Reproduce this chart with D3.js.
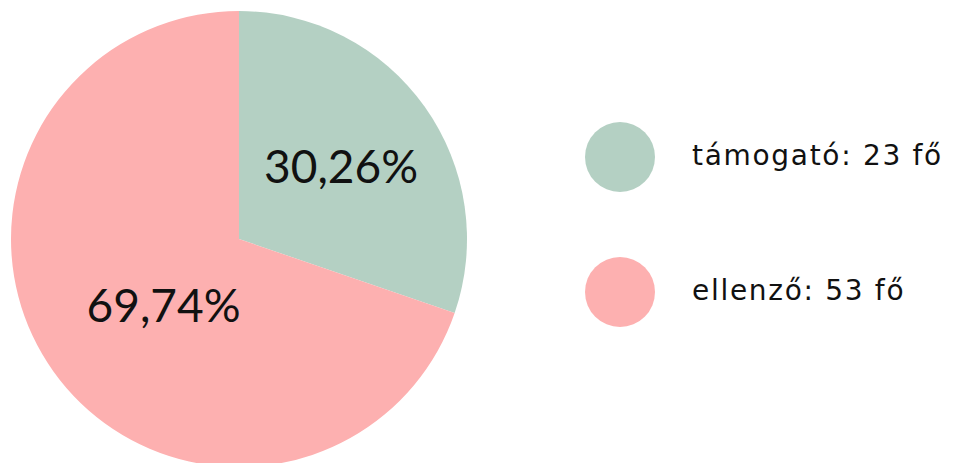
<!DOCTYPE html>
<html>
<head>
<meta charset="utf-8">
<script src="https://cdn.jsdelivr.net/npm/d3@7"></script>
<style>
  html, body { margin: 0; padding: 0; background: #fff; }
  svg { display: block; }
  text { fill: #111; }
  .pct { font-family: Lato, "Open Sans", sans-serif; font-weight: 400; }
  .leg { font-family: "DejaVu Sans", Lato, sans-serif; font-weight: 400; letter-spacing: 1.7px; }
</style>
</head>
<body>
<svg id="chart" width="964" height="463"></svg>
<script>
const categories = ["támogató", "ellenző"];
const counts = [23, 53];
const percentLabels = ["30,26%", "69,74%"];
const colors = ["#b4d0c3", "#fdb0b0"];

const svg = d3.select("#chart");
const cx = 239, cy = 239, R = 228;

const pie = d3.pie().sort(null).value(d => d)(counts);
const arc = d3.arc().innerRadius(0).outerRadius(R);

const g = svg.append("g").attr("transform", `translate(${cx},${cy})`);
g.selectAll("path.slice").data(pie).join("path")
  .attr("class", "slice")
  .attr("d", arc)
  .attr("fill", (d, i) => colors[i]);

const labelFactor = [0.55, 0.44];
const labelAngleShift = [0, -0.1];
g.selectAll("text.pct").data(pie).join("text")
  .attr("class", "pct")
  .attr("transform", (d, i) => {
    const r = R * labelFactor[i];
    const a = (d.startAngle + d.endAngle) / 2 + labelAngleShift[i];
    return `translate(${r * Math.sin(a)},${-r * Math.cos(a)})`;
  })
  .attr("text-anchor", "middle")
  .attr("dy", "0.36em")
  .style("font-size", "46px")
  .text((d, i) => percentLabels[i]);

// legend
const legendY = d3.scalePoint().domain(categories).range([157, 292]);
const items = svg.append("g").selectAll("g.item").data(categories).join("g")
  .attr("class", "item")
  .attr("transform", d => `translate(620,${legendY(d)})`);
items.append("circle").attr("r", 35).attr("fill", (d, i) => colors[i]);
items.append("text")
  .attr("class", "leg")
  .attr("x", 72)
  .attr("y", 8)
  .style("font-size", "28px")
  .text((d, i) => `${d}: ${counts[i]} fő`);
</script>
</body>
</html>
